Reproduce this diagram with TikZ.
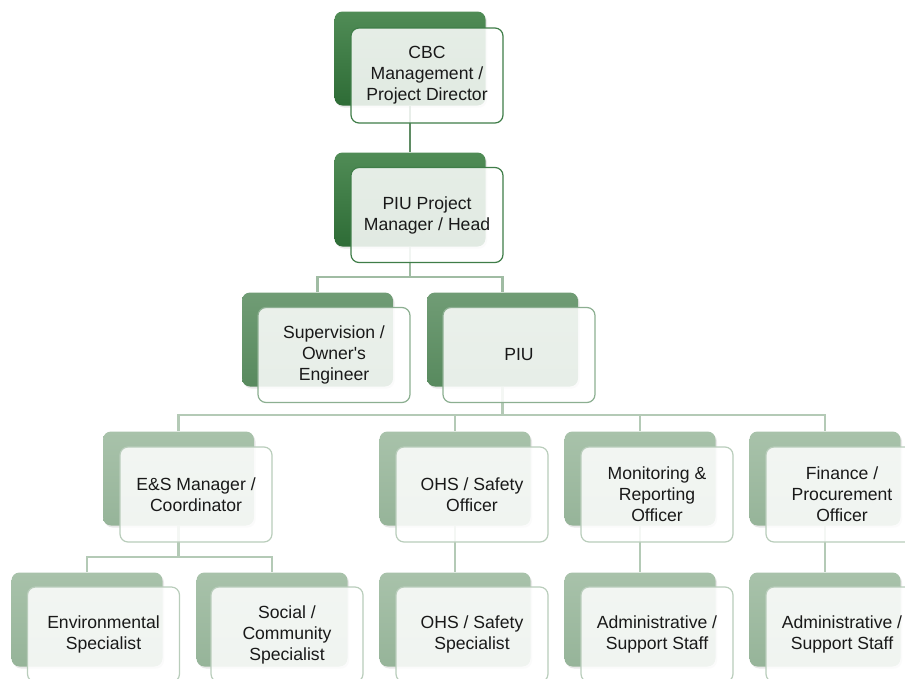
\documentclass[tikz,border=0pt]{standalone}
\usepackage{fontspec}
\setmainfont{Liberation Sans}
\usetikzlibrary{shadows}
\definecolor{dtop}{RGB}{80,140,86}
\definecolor{dbot}{RGB}{46,108,54}
\definecolor{mtop}{RGB}{112,156,117}
\definecolor{mbot}{RGB}{88,138,94}
\definecolor{ltop}{RGB}{168,194,170}
\definecolor{lbot}{RGB}{150,180,153}
\definecolor{dline}{RGB}{63,125,72}
\definecolor{mline}{RGB}{140,175,145}
\definecolor{lline}{RGB}{185,205,187}
\definecolor{conA}{RGB}{95,140,100}
\definecolor{conB}{RGB}{160,188,163}
\definecolor{conC}{RGB}{180,202,182}
\definecolor{txt}{RGB}{25,25,25}
\tikzset{
  backbox/.style={rounded corners=8pt, minimum width=151pt, minimum height=94pt, inner sep=0pt, draw=none,
     drop shadow={shadow xshift=1.5pt, shadow yshift=-2pt, opacity=0.18}},
  back0/.style={backbox, top color=dtop, bottom color=dbot},
  back2/.style={backbox, top color=mtop, bottom color=mbot},
  back3/.style={backbox, top color=ltop, bottom color=lbot},
  frontbox/.style={rounded corners=8pt, minimum width=152pt, minimum height=95pt, inner sep=0pt,
     fill=white, fill opacity=0.86, text opacity=1, line width=1.2pt, align=center, text=txt,
     font=\fontsize{17.6}{21}\selectfont},
  front0/.style={frontbox, draw=dline},
  front2/.style={frontbox, draw=mline},
  front3/.style={frontbox, draw=lline},
  conn/.style={line width=2.4pt}
}
\begin{document}
\begin{tikzpicture}[x=1pt,y=-1pt]
\useasboundingbox (0,0) rectangle (905,678);
\clip (0,0) rectangle (905,678);
% Level 0/1
\node[back0] (b0) at (410,58.5) {};
\node[back0] (b1) at (410,199.5) {};
% Level 2
\node[back2] (b2a) at (317.5,339.5) {};
\node[back2] (b2b) at (502.5,339.5) {};
% Level 3
\node[back3] (b3a) at (178.5,478.5) {};
\node[back3] (b3b) at (455,478.5) {};
\node[back3] (b3c) at (640,478.5) {};
\node[back3] (b3d) at (825,478.5) {};
% Level 4
\node[back3] (b4a) at (87,619.5) {};
\node[back3] (b4b) at (272,619.5) {};
\node[back3] (b4c) at (455,619.5) {};
\node[back3] (b4d) at (640,619.5) {};
\node[back3] (b4e) at (825,619.5) {};
% connectors (behind the front boxes)
\draw[conn, conA] (b0.south) -- (b1.north);
\coordinate (j1) at (b1.south |- 0,277);
\draw[conn, conB] (b1.south) -- (j1) -| (b2a.north);
\draw[conn, conB] (j1) -| (b2b.north);
\coordinate (j2) at (b2b.south |- 0,415);
\draw[conn, conC] (b2b.south) -- (j2) -| (b3a.north);
\draw[conn, conC] (j2) -| (b3d.north);
\draw[conn, conC] (b3b.north |- j2) -- (b3b.north);
\draw[conn, conC] (b3c.north |- j2) -- (b3c.north);
\coordinate (j3) at (b3a.south |- 0,557);
\draw[conn, conC] (b3a.south) -- (j3) -| (b4a.north);
\draw[conn, conC] (j3) -| (b4b.north);
\draw[conn, conC] (b3b.south) -- (b4c.north);
\draw[conn, conC] (b3c.south) -- (b4d.north);
\draw[conn, conC] (b3d.south) -- (b4e.north);
% front boxes
\node[front0] (f0) at (427,75.5) {CBC\\Management /\\Project Director};
\node[front0] (f1) at (427,215) {PIU Project\\Manager / Head};
\node[front2] (f2a) at (334,355) {Supervision /\\Owner\textquotesingle s\\Engineer};
\node[front2] (f2b) at (519,355) {PIU};
\node[front3] (f3a) at (196,494.5) {E\&S Manager /\\Coordinator};
\node[front3] (f3b) at (472,494.5) {OHS / Safety\\Officer};
\node[front3] (f3c) at (657,494.5) {Monitoring \&\\Reporting\\Officer};
\node[front3] (f3d) at (842,494.5) {Finance /\\Procurement\\Officer};
\node[front3] (f4a) at (103.5,634.5) {Environmental\\Specialist};
\node[front3] (f4b) at (287,634.5) {Social /\\Community\\Specialist};
\node[front3] (f4c) at (472,634.5) {OHS / Safety\\Specialist};
\node[front3] (f4d) at (657,634.5) {Administrative /\\Support Staff};
\node[front3] (f4e) at (842,634.5) {Administrative /\\Support Staff};
\end{tikzpicture}
\end{document}
